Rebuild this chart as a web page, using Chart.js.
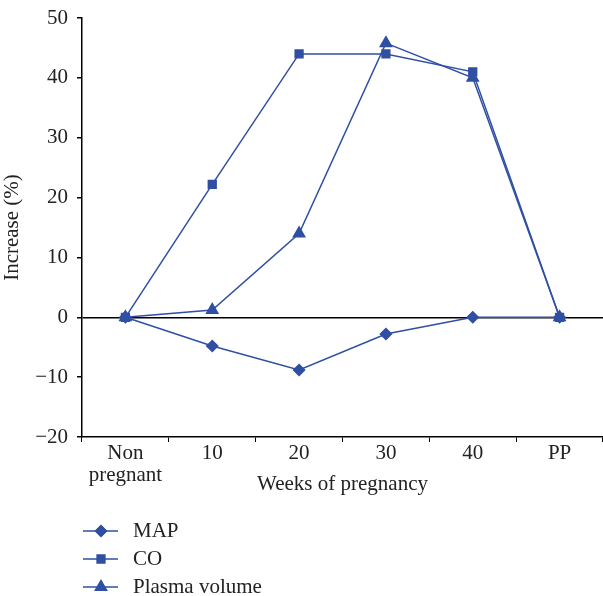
<!DOCTYPE html>
<html lang="en">
<head>
  <meta charset="UTF-8" />
  <title>Increase during pregnancy</title>
  <script src="https://cdn.jsdelivr.net/npm/chart.js"></script>
  <style>
    html, body { margin: 0; padding: 0; background: #fff; overflow: hidden; }
    canvas { display: block; }
  </style>
</head>
<body>
  <canvas id="chart" width="603" height="596"></canvas>

  <script>
    // data
    const weeks = [["Non", "pregnant"], "10", "20", "30", "40", "PP"];
    const mapValues = [0, -4.8, -8.8, -2.8, 0, 0];
    const coValues = [0, 22.2, 44, 44, 41, 0];
    const plasmaValues = [0, 1.2, 14, 45.8, 40, 0];
    const yTicks = [-20, -10, 0, 10, 20, 30, 40, 50];

    const blue = "#2f4fa3";
    const font = "'Liberation Serif', 'DejaVu Serif', serif";
    const size = 21;

    function series(label, data, style, radius) {
      return {
        label: label,
        data: data,
        borderColor: blue,
        backgroundColor: blue,
        borderWidth: 1.5,
        pointStyle: style,
        pointRadius: radius,
        pointHoverRadius: radius,
        tension: 0,
      };
    }

    // legend: short line with marker in the middle, stacked at bottom left
    const lineLegend = {
      id: "lineLegend",
      afterDraw(chart) {
        const c = chart.ctx;
        c.save();
        chart.data.datasets.forEach((ds, i) => {
          const y = 531 + i * 28;
          c.strokeStyle = ds.borderColor;
          c.lineWidth = 1.5;
          c.beginPath();
          c.moveTo(83, y);
          c.lineTo(118, y);
          c.stroke();
          Chart.helpers.drawPoint(c, {
            pointStyle: ds.pointStyle,
            radius: ds.pointRadius,
            borderWidth: 1,
            rotation: 0,
          }, 101, y);
          c.fillStyle = blue;
          c.fill();
          c.fillStyle = "#222";
          c.font = size + "px " + font;
          c.textBaseline = "middle";
          c.fillText(ds.label, 133, y);
        });
        c.restore();
      },
    };

    Chart.defaults.font.family = font;
    Chart.defaults.color = "#222";

    new Chart(document.getElementById("chart"), {
      type: "line",
      data: {
        labels: weeks,
        datasets: [
          series("MAP", mapValues, "rectRot", 5.5),
          series("CO", coValues, "rect", 5.5),
          series("Plasma volume", plasmaValues, "triangle", 6.5),
        ],
      },
      options: {
        responsive: false,
        animation: false,
        layout: { autoPadding: false, padding: { top: 18, bottom: 99, left: 0, right: 0 } },
        plugins: { legend: { display: false }, tooltip: { enabled: false } },
        scales: {
          x: {
            offset: true,
            afterFit(scale) {
              scale.height = 60;
              scale.paddingLeft = 0;
              scale.paddingRight = 0;
            },
            grid: {
              offset: true,
              drawOnChartArea: false,
              drawTicks: true,
              tickLength: 5,
              tickColor: "#000",
            },
            border: { color: "#000", width: 1.5 },
            ticks: { font: { size: size, lineHeight: 1.05 }, maxRotation: 0, padding: 0 },
            title: {
              display: true,
              text: "Weeks of pregnancy",
              font: { size: size },
              padding: { top: 0, bottom: 0 },
            },
          },
          y: {
            min: -20,
            max: 50,
            afterFit(scale) {
              scale.width = 82;
              scale.paddingTop = 0;
              scale.paddingBottom = 0;
            },
            afterBuildTicks(scale) { scale.ticks = yTicks.map(v => ({ value: v })); },
            grid: {
              color: ctx => (ctx.tick && ctx.tick.value === 0 ? "#000" : "rgba(0,0,0,0)"),
              lineWidth: 1.5,
              tickColor: "#000",
              tickLength: 5,
            },
            border: { color: "#000", width: 1.5 },
            ticks: {
              font: { size: size },
              padding: 9,
              callback: v => (v < 0 ? "\u2212" + Math.abs(v) : String(v)),
            },
            title: {
              display: true,
              text: "Increase (%)",
              font: { size: size },
              padding: { top: 0, bottom: 4 },
            },
          },
        },
      },
      plugins: [lineLegend],
    });
  </script>
</body>
</html>
